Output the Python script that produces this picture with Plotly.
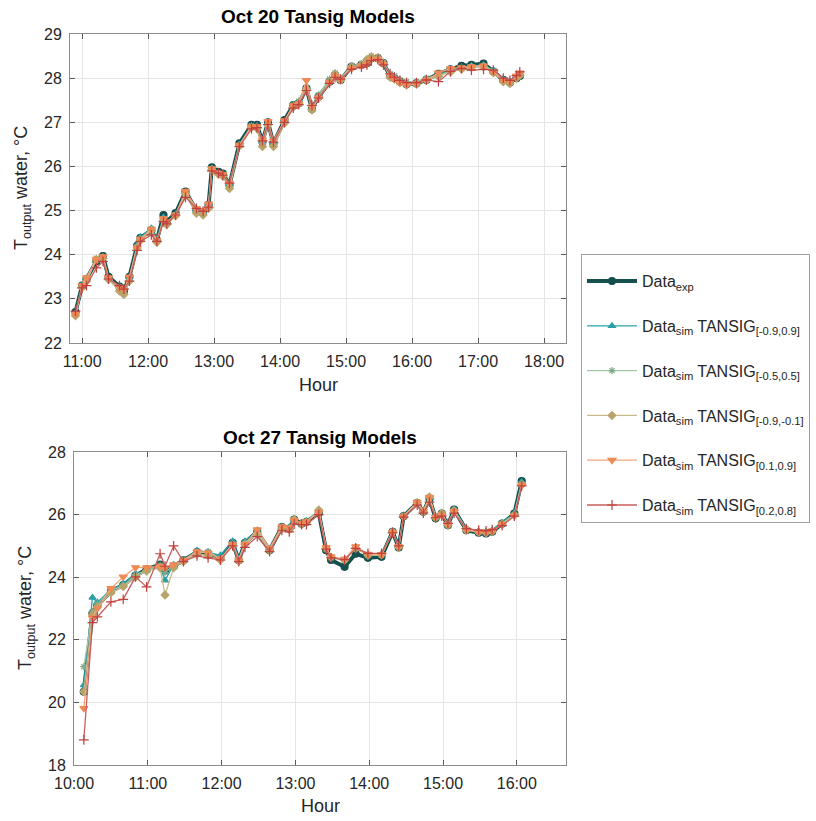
import plotly.graph_objects as go

# ---------------- Oct 20 data ----------------
top_times = ["10:54","11:00","11:04","11:13","11:19","11:24","11:34","11:38","11:43","11:50",
             "11:53","12:03","12:08","12:14","12:17","12:25","12:34","12:44","12:50","12:55",
             "12:58","13:04","13:08","13:14","13:23","13:34","13:39","13:44","13:49","13:54",
             "14:04","14:12","14:17","14:24","14:29","14:35","14:45","14:50","14:55","15:05",
             "15:14","15:19","15:23","15:29","15:34","15:40","15:44","15:49","15:55","16:04",
             "16:13","16:24","16:35","16:45","16:54","17:05","17:14","17:23","17:29","17:35",
             "17:38"]
top_exp = [22.70,23.30,23.45,23.85,23.97,23.50,23.28,23.18,23.50,24.20,
           24.38,24.55,24.33,24.90,24.75,24.94,25.43,25.00,24.95,25.13,
           25.98,25.88,25.84,25.58,26.52,26.94,26.94,26.56,27.00,26.52,
           27.05,27.39,27.43,27.77,27.30,27.58,27.92,28.07,27.96,28.26,
           28.30,28.34,28.45,28.45,28.34,28.05,28.00,27.92,27.86,27.88,
           27.96,28.10,28.20,28.28,28.30,28.33,28.15,27.96,27.90,28.00,
           28.05]
top_s1 = [22.68,23.32,23.47,23.90,23.95,23.48,23.26,23.15,23.48,24.22,
          24.40,24.60,24.36,24.85,24.72,24.92,25.42,25.02,24.97,25.15,
          25.96,25.86,25.80,25.60,26.50,26.90,26.92,26.58,26.98,26.55,
          27.02,27.36,27.45,27.75,27.32,27.60,27.95,28.10,27.98,28.24,
          28.28,28.38,28.47,28.44,28.36,28.08,28.02,27.94,27.90,27.90,
          27.98,28.08,28.18,28.25,28.28,28.30,28.18,27.98,27.93,28.02,
          28.08]
top_s2 = [22.66,23.28,23.42,23.92,23.94,23.46,23.24,23.12,23.45,24.18,
          24.36,24.58,24.30,24.80,24.70,24.90,25.40,24.98,24.92,25.10,
          25.94,25.84,25.82,25.55,26.48,26.92,26.90,26.52,26.96,26.50,
          27.00,27.40,27.48,27.78,27.35,27.62,27.98,28.12,28.00,28.28,
          28.33,28.40,28.50,28.48,28.35,28.10,28.05,27.96,27.92,27.92,
          28.00,28.06,28.16,28.22,28.26,28.28,28.16,27.95,27.92,28.04,
          28.10]
top_s3 = [22.62,23.26,23.40,23.88,23.92,23.44,23.18,23.10,23.40,24.15,
          24.32,24.55,24.28,24.78,24.68,24.88,25.38,24.94,24.90,25.05,
          25.92,25.82,25.78,25.50,26.46,26.88,26.86,26.45,26.94,26.45,
          26.98,27.34,27.42,27.74,27.28,27.56,27.92,28.08,27.95,28.25,
          28.30,28.42,28.48,28.46,28.33,28.02,27.98,27.90,27.85,27.86,
          27.95,28.04,28.14,28.20,28.24,28.26,28.12,27.92,27.88,28.00,
          28.06]
top_s4 = [22.65,23.30,23.48,23.90,23.96,23.48,23.27,23.20,23.50,24.16,
          24.35,24.58,24.32,24.82,24.74,24.90,25.44,25.05,25.00,25.15,
          25.95,25.85,25.82,25.62,26.48,26.90,26.90,26.60,27.02,26.58,
          27.04,27.38,27.42,27.95,27.35,27.55,27.90,28.05,27.98,28.22,
          28.28,28.32,28.42,28.42,28.32,28.06,27.98,27.90,27.84,27.88,
          27.95,28.12,28.22,28.24,28.26,28.28,28.14,27.96,27.92,28.05,
          28.12]
top_s5 = [22.72,23.25,23.30,23.70,23.85,23.45,23.30,23.22,23.40,24.10,
          24.30,24.45,24.30,24.75,24.70,24.90,25.30,25.05,24.98,25.08,
          25.90,25.85,25.80,25.62,26.45,26.85,26.88,26.58,26.95,26.55,
          27.00,27.32,27.40,27.72,27.38,27.55,27.88,28.02,27.98,28.20,
          28.25,28.30,28.40,28.42,28.30,28.10,28.02,27.95,27.90,27.90,
          27.96,27.92,28.15,28.22,28.18,28.20,28.18,28.00,27.95,28.06,
          28.14]

# ---------------- Oct 27 data ----------------
bot_times = ["10:08","10:15","10:19","10:30","10:40","10:50","10:59","11:10","11:14","11:21",
             "11:29","11:40","11:49","11:59","12:09","12:14","12:19","12:29","12:39","12:49",
             "12:55","12:59","13:05","13:09","13:19","13:25","13:29","13:40","13:49","13:59",
             "14:10","14:19","14:24","14:28","14:39","14:44","14:49","14:54","14:59","15:04",
             "15:09","15:19","15:29","15:35","15:40","15:48","15:58","16:04"]
bot_exp = [20.34,22.84,23.10,23.55,23.75,24.05,24.25,24.40,24.22,24.35,
           24.54,24.80,24.75,24.62,25.10,24.54,25.10,25.45,24.86,25.60,
           25.55,25.84,25.71,25.77,26.05,24.86,24.55,24.33,24.75,24.62,
           24.65,25.45,24.95,25.95,26.37,26.09,26.51,25.88,26.03,25.66,
           26.16,25.50,25.42,25.40,25.45,25.71,26.03,27.07]
bot_s1 = [20.55,23.35,23.20,23.60,23.80,24.10,24.20,24.35,23.90,24.40,
          24.56,24.85,24.80,24.70,25.15,24.60,25.15,25.50,24.90,25.62,
          25.60,25.86,25.74,25.80,26.08,24.95,24.65,24.56,24.97,24.72,
          24.74,25.48,25.00,25.98,26.40,26.12,26.55,25.92,26.06,25.70,
          26.18,25.55,25.48,25.45,25.50,25.74,26.05,27.05]
bot_s2 = [21.14,22.90,23.15,23.58,23.72,24.08,24.22,24.38,24.15,24.38,
          24.52,24.78,24.82,24.60,25.05,24.56,25.08,25.42,24.88,25.58,
          25.58,25.80,25.72,25.78,26.10,24.90,24.62,24.54,24.95,24.70,
          24.70,25.46,24.98,25.96,26.36,26.10,26.52,25.90,26.02,25.68,
          26.14,25.52,25.45,25.44,25.48,25.72,26.00,26.98]
bot_s3 = [20.34,22.80,23.05,23.50,23.70,24.00,24.20,24.30,23.43,24.30,
          24.50,24.74,24.70,24.55,25.02,24.52,25.05,25.40,24.85,25.55,
          25.52,25.85,25.70,25.75,26.15,24.92,24.64,24.55,24.92,24.70,
          24.72,25.44,24.96,25.94,26.38,26.08,26.56,25.90,26.04,25.66,
          26.12,25.50,25.44,25.42,25.46,25.70,25.98,26.95]
bot_s4 = [19.81,22.70,23.00,23.64,24.01,24.31,24.31,24.35,24.30,24.40,
          24.55,24.82,24.78,24.58,25.05,24.55,25.05,25.52,24.92,25.62,
          25.58,25.82,25.72,25.78,26.06,24.95,24.66,24.58,24.98,24.74,
          24.72,25.44,24.98,25.94,26.40,26.12,26.56,25.92,25.98,25.70,
          26.10,25.52,25.46,25.44,25.48,25.68,25.96,26.95]
bot_s5 = [18.80,22.55,22.73,23.21,23.29,24.01,23.69,24.75,24.35,25.00,
          24.50,24.68,24.62,24.55,25.00,24.50,24.95,25.30,24.82,25.50,
          25.45,25.70,25.68,25.68,26.00,24.90,24.62,24.56,24.92,24.76,
          24.76,25.42,25.00,25.92,26.30,26.05,26.40,25.90,25.95,25.72,
          26.05,25.55,25.50,25.48,25.52,25.65,25.95,26.92]

series_names = [
    "Data<sub>exp</sub>",
    "Data<sub>sim</sub> TANSIG<sub>[-0.9,0.9]</sub>",
    "Data<sub>sim</sub> TANSIG<sub>[-0.5,0.5]</sub>",
    "Data<sub>sim</sub> TANSIG<sub>[-0.9,-0.1]</sub>",
    "Data<sub>sim</sub> TANSIG<sub>[0.1,0.9]</sub>",
    "Data<sub>sim</sub> TANSIG<sub>[0.2,0.8]</sub>",
]

colors = ["#15504e", "#2aa3a8", "#a3c8a8", "#c9ba8a", "#f6a57a", "#c65f5c"]
mcolors = ["#15504e", "#2a9ea3", "#7faa88", "#b8a46a", "#f08a55", "#c0403d"]
symbols = ["circle", "triangle-up", "asterisk-open", "diamond", "triangle-down", "cross-thin-open"]
widths = [4, 1.3, 1.3, 1.3, 1.3, 1.3]
msizes = [7, 6, 6, 6, 7, 7]

top_series = [top_exp, top_s1, top_s2, top_s3, top_s4, top_s5]
bot_series = [bot_exp, bot_s1, bot_s2, bot_s3, bot_s4, bot_s5]

fig = go.Figure()

top_x = ["2020-10-20 " + t for t in top_times]
bot_x = ["2020-10-27 " + t for t in bot_times]

for i in range(6):
    fig.add_trace(go.Scatter(
        x=top_x, y=top_series[i], mode="lines+markers", name=series_names[i],
        legendgroup=f"g{i}",
        line=dict(color=colors[i], width=widths[i]),
        marker=dict(symbol=symbols[i], size=msizes[i], color=mcolors[i],
                    line=dict(color=mcolors[i], width=1.2)),
        xaxis="x", yaxis="y", showlegend=True))
for i in range(6):
    fig.add_trace(go.Scatter(
        x=bot_x, y=bot_series[i], mode="lines+markers", name=series_names[i],
        legendgroup=f"g{i}",
        line=dict(color=colors[i], width=widths[i]),
        marker=dict(symbol=symbols[i], size=msizes[i], color=mcolors[i],
                    line=dict(color=mcolors[i], width=1.2)),
        xaxis="x2", yaxis="y2", showlegend=False))

W, H = 816, 821
axis_common = dict(
    showline=True, linecolor="#8c8c8c", linewidth=1, mirror="ticks",
    ticks="inside", ticklen=5, tickcolor="#595959",
    showgrid=True, gridcolor="#e5e5e5", gridwidth=1,
    tickfont=dict(family="Liberation Sans, Arial", size=16, color="#262626"),
    zeroline=False, automargin=False,
)
xa = dict(axis_common, ticklabelstandoff=4)
ya = dict(axis_common, ticklabelstandoff=4)

title_font = dict(family="Liberation Sans, Arial", size=18, color="#262626")

fig.update_layout(
    width=W, height=H,
    margin=dict(l=0, r=0, t=0, b=0, autoexpand=False),
    paper_bgcolor="white", plot_bgcolor="white",
    font=dict(family="Liberation Sans, Arial", color="#262626"),
    xaxis=dict(domain=[70/W, 566/W], anchor="y", type="date",
               range=["2020-10-20 10:49", "2020-10-20 18:20"],
               dtick=3600000, tick0="2020-10-20 11:00", tickformat="%H:%M", **xa),
    yaxis=dict(domain=[1-343/H, 1-34/H], anchor="x", range=[22, 29], dtick=1, **ya),
    xaxis2=dict(domain=[74/W, 566/W], anchor="y2", type="date",
                range=["2020-10-27 10:00", "2020-10-27 16:40"],
                dtick=3600000, tick0="2020-10-27 10:00", tickformat="%H:%M", **xa),
    yaxis2=dict(domain=[1-765/H, 1-452/H], anchor="x2", range=[18, 28], dtick=2, **ya),
    legend=dict(x=581/W, y=1-254/H, xanchor="left", yanchor="top",
                bgcolor="white", bordercolor="#a0a0a0", borderwidth=1,
                font=dict(family="Liberation Sans, Arial", size=16, color="#262626"),
                title=dict(text=" ", font=dict(size=7)),
                itemwidth=50, tracegroupgap=21, traceorder="grouped"),
    annotations=[
        dict(text="<b>Oct 20 Tansig Models</b>", x=318/W, y=1-17/H, xref="paper", yref="paper",
             showarrow=False, font=dict(size=19, color="black"), xanchor="center", yanchor="middle"),
        dict(text="<b>Oct 27 Tansig Models</b>", x=320/W, y=1-437/H, xref="paper", yref="paper",
             showarrow=False, font=dict(size=19, color="black"), xanchor="center", yanchor="middle"),
        dict(text="Hour", x=318/W, y=1-385/H, xref="paper", yref="paper", showarrow=False,
             font=title_font, xanchor="center", yanchor="middle"),
        dict(text="Hour", x=320/W, y=1-806/H, xref="paper", yref="paper", showarrow=False,
             font=title_font, xanchor="center", yanchor="middle"),
        dict(text="T<sub>output</sub> water, °C", x=22/W, y=1-188/H, xref="paper", yref="paper",
             showarrow=False, textangle=-90, font=title_font, xanchor="center", yanchor="middle"),
        dict(text="T<sub>output</sub> water, °C", x=26/W, y=1-608/H, xref="paper", yref="paper",
             showarrow=False, textangle=-90, font=title_font, xanchor="center", yanchor="middle"),
    ],
)

fig.write_html("out.html")
